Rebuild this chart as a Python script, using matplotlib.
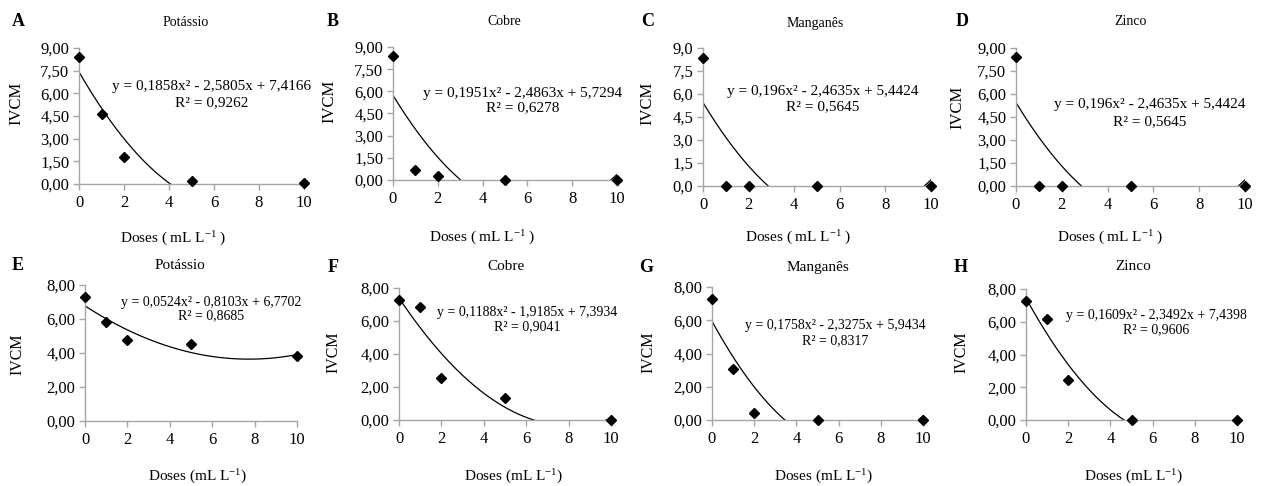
import numpy as np
import matplotlib
matplotlib.use("Agg")
import matplotlib.pyplot as plt

plt.rcParams['font.family'] = ['Liberation Serif', 'DejaVu Serif']
plt.rcParams['mathtext.fontset'] = 'custom'
plt.rcParams['mathtext.rm'] = 'Liberation Serif'
plt.rcParams['mathtext.it'] = 'Liberation Serif:italic'

# data
doses = [0, 1, 2, 5, 10]
letters = ['A', 'B', 'C', 'D', 'E', 'F', 'G', 'H']
titles = ['Potássio', 'Cobre', 'Manganês', 'Zinco',
          'Potássio', 'Cobre', 'Manganês', 'Zinco']
ivcm_a = [8.42, 4.63, 1.78, 0.18, 0.04]
ivcm_b = [8.38, 0.66, 0.26, 0.00, 0.02]
ivcm_c = [8.38, 0.00, 0.00, 0.00, 0.00]
ivcm_d = [8.42, 0.00, 0.00, 0.00, 0.00]
ivcm_e = [7.27, 5.80, 4.76, 4.55, 3.85]
ivcm_f = [7.28, 6.83, 2.55, 1.33, 0.02]
ivcm_g = [7.29, 3.08, 0.40, 0.02, 0.02]
ivcm_h = [7.29, 6.16, 2.47, 0.02, 0.02]
series = [ivcm_a, ivcm_b, ivcm_c, ivcm_d, ivcm_e, ivcm_f, ivcm_g, ivcm_h]

# quadratic trendlines (a, b, c) and R2 as printed
coefs = [(0.1858, -2.5805, 7.4166), (0.1951, -2.4863, 5.7294),
         (0.196, -2.4635, 5.4424), (0.196, -2.4635, 5.4424),
         (0.0524, -0.8103, 6.7702), (0.1188, -1.9185, 7.3934),
         (0.1758, -2.3275, 5.9434), (0.1609, -2.3492, 7.4398)]
r2 = ['0,9262', '0,6278', '0,5645', '0,5645', '0,8685', '0,9041', '0,8317', '0,9606']

top_ticks = [0, 1.5, 3, 4.5, 6, 7.5, 9]
bottom_ticks = [0, 2, 4, 6, 8]
x_ticks = [0, 2, 4, 6, 8, 10]

# layout, pixels: x_left, x_right, y_top, y_bottom
W, H = 1262, 486
boxes = [(79, 304, 48, 184), (393, 617, 47, 180), (703, 931, 48, 186), (1016, 1245, 48, 186),
         (85, 297, 285, 421), (399, 611, 288, 420), (712, 923, 287, 420), (1026, 1237, 289, 420)]
# text positions in axes fraction
eq_pos = [(0.591, 0.72, 0.596), (0.58, 0.654, 0.541), (0.526, 0.688, 0.572), (0.585, 0.594, 0.464),
          (0.594, 0.875, 0.772), (0.604, 0.818, 0.705), (0.583, 0.707, 0.60), (0.616, 0.80, 0.687)]
title_pos = [(0.476, 1.19), (0.495, 1.19), (0.49, 1.18), (0.498, 1.19),
             (0.45, 1.14), (0.505, 1.16), (0.50, 1.15), (0.507, 1.17)]
ylab_pos = [(-0.28, 0.59), (-0.286, 0.594), (-0.246, 0.60), (-0.258, 0.57),
            (-0.32, 0.49), (-0.307, 0.515), (-0.30, 0.51), (-0.308, 0.515)]
xlab_pos = [(0.42, -0.40), (0.40, -0.436), (0.417, -0.377), (0.41, -0.377),
            (0.528, -0.41), (0.538, -0.43), (0.526, -0.43), (0.507, -0.435)]
letter_pos = [(18, 22), (333, 22), (648, 22), (962, 22),
              (18, 266), (333, 267), (646, 267), (961, 267)]


def num(v):
    return str(v).replace('.', ',')


fig = plt.figure(figsize=(W / 100, H / 100), dpi=100)
grey = '#a6a6a6'
xs = np.linspace(0, 10, 400)

for i in range(8):
    x0, x1, yt, yb = boxes[i]
    ax = fig.add_axes([x0 / W, 1 - yb / H, (x1 - x0) / W, (yb - yt) / H])
    a, b, c = coefs[i]
    ax.plot(xs, np.polyval([a, b, c], xs), color='black', lw=0.9)
    ax.plot(doses, series[i], linestyle='none', marker='D', ms=4.6, color='black', clip_on=False, zorder=5)

    ax.set_xlim(0, 10)
    ax.set_xticks(x_ticks)
    ax.set_xticklabels([str(t) for t in x_ticks])
    if i < 4:
        ax.set_ylim(0, 9)
        ax.set_yticks(top_ticks)
        fmt = '{:.1f}' if i == 2 else '{:.2f}'
        ax.set_yticklabels([fmt.format(t).replace('.', ',') for t in top_ticks])
        xlabel = r'Doses ( mL L$^{\mathrm{-1}}$ )'
        eq_size, title_size, ylab_size = 11, 10, 12
    else:
        ax.set_ylim(0, 8)
        ax.set_yticks(bottom_ticks)
        ax.set_yticklabels(['{:.2f}'.format(t).replace('.', ',') for t in bottom_ticks])
        xlabel = r'Doses (mL L$^{\mathrm{-1}}$)'
        eq_size, title_size, ylab_size = 10, 11, 11.5

    for s in ['top', 'right']:
        ax.spines[s].set_visible(False)
    for s in ['left', 'bottom']:
        ax.spines[s].set_color(grey)
        ax.spines[s].set_linewidth(1.0)
    ax.tick_params(axis='both', colors=grey, labelcolor='black', labelsize=12, length=4, width=1)
    ax.tick_params(axis='y', pad=3)
    ax.tick_params(axis='x', pad=4)

    ex, ey, ry = eq_pos[i]
    ax.text(ex, ey, f'y = {num(a)}x² - {num(-b)}x + {num(c)}', transform=ax.transAxes,
            ha='center', va='center', fontsize=eq_size)
    ax.text(ex, ry, f'R² = {r2[i]}', transform=ax.transAxes, ha='center', va='center', fontsize=eq_size)
    tx, ty = title_pos[i]
    ax.text(tx, ty, titles[i], transform=ax.transAxes, ha='center', va='center', fontsize=title_size)
    lx, ly = ylab_pos[i]
    ax.text(lx, ly, 'IVCM', transform=ax.transAxes, ha='center', va='center', rotation=90, fontsize=ylab_size)
    bx, by = xlab_pos[i]
    ax.text(bx, by, xlabel, transform=ax.transAxes, ha='center', va='center', fontsize=11)
    px, py = letter_pos[i]
    fig.text(px / W, 1 - py / H, letters[i], ha='center', va='center', fontsize=13, fontweight='bold')

fig.savefig('out.png', dpi=100)
